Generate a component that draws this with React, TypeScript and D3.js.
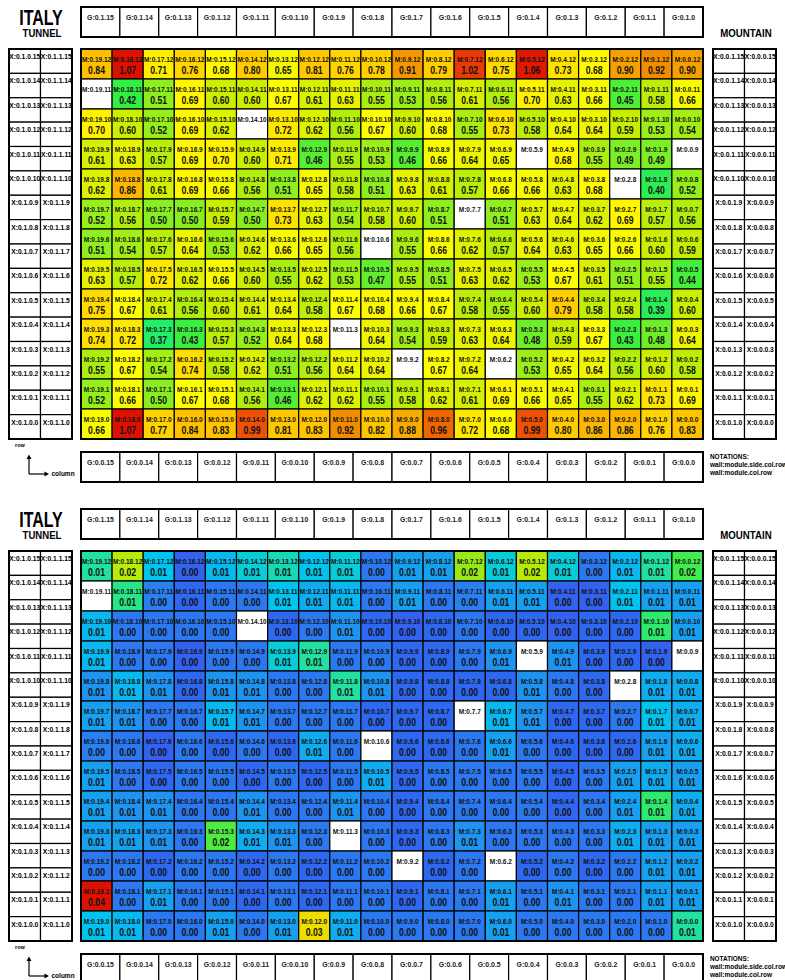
import React from 'react';
import * as d3 from 'd3';

// ---------- data ----------
const modules = [19, 18, 17, 16, 15, 14, 13, 12, 11, 10, 9, 8, 7, 6, 5, 4, 3, 2, 1, 0];
const moduleRows = [12, 11, 10, 9, 8, 7, 6, 5, 4, 3, 2, 1, 0];
const groupCols = [15, 14, 13, 12, 11, 10, 9, 8, 7, 6, 5, 4, 3, 2, 1, 0];
const sideRows = [15, 14, 13, 12, 11, 10, 9, 8, 7, 6, 5, 4, 3, 2, 1, 0];

// top panel values, rows 12..0, modules 19..0
const efficiencyRows: (number | null)[][] = [
  [0.84, 1.07, 0.71, 0.76, 0.68, 0.80, 0.65, 0.81, 0.76, 0.78, 0.91, 0.79, 1.02, 0.75, 1.06, 0.73, 0.68, 0.90, 0.92, 0.90],
  [null, 0.42, 0.51, 0.69, 0.60, 0.60, 0.67, 0.61, 0.63, 0.55, 0.53, 0.56, 0.61, 0.56, 0.70, 0.63, 0.66, 0.45, 0.58, 0.66],
  [0.70, 0.60, 0.52, 0.69, 0.62, null, 0.72, 0.62, 0.56, 0.67, 0.60, 0.68, 0.55, 0.73, 0.58, 0.64, 0.64, 0.59, 0.53, 0.54],
  [0.61, 0.63, 0.57, 0.69, 0.70, 0.60, 0.71, 0.46, 0.55, 0.53, 0.46, 0.66, 0.64, 0.65, null, 0.68, 0.55, 0.49, 0.49, null],
  [0.62, 0.86, 0.61, 0.69, 0.66, 0.56, 0.51, 0.65, 0.58, 0.51, 0.63, 0.61, 0.57, 0.66, 0.66, 0.63, 0.68, null, 0.40, 0.52],
  [0.52, 0.56, 0.50, 0.50, 0.59, 0.50, 0.73, 0.63, 0.54, 0.58, 0.60, 0.51, null, 0.51, 0.63, 0.64, 0.62, 0.69, 0.57, 0.56],
  [0.51, 0.54, 0.57, 0.64, 0.53, 0.62, 0.66, 0.65, 0.56, null, 0.55, 0.66, 0.62, 0.57, 0.64, 0.63, 0.65, 0.66, 0.60, 0.59],
  [0.63, 0.57, 0.72, 0.62, 0.66, 0.60, 0.55, 0.62, 0.53, 0.47, 0.55, 0.51, 0.63, 0.62, 0.53, 0.67, 0.61, 0.51, 0.55, 0.44],
  [0.75, 0.67, 0.61, 0.56, 0.60, 0.61, 0.64, 0.58, 0.67, 0.68, 0.66, 0.67, 0.58, 0.55, 0.60, 0.79, 0.58, 0.58, 0.39, 0.60],
  [0.74, 0.72, 0.37, 0.43, 0.57, 0.52, 0.64, 0.68, null, 0.64, 0.54, 0.59, 0.63, 0.64, 0.48, 0.59, 0.67, 0.43, 0.48, 0.64],
  [0.55, 0.67, 0.54, 0.74, 0.58, 0.62, 0.51, 0.56, 0.64, 0.64, null, 0.67, 0.64, null, 0.53, 0.65, 0.64, 0.56, 0.60, 0.58],
  [0.52, 0.66, 0.50, 0.67, 0.68, 0.56, 0.46, 0.62, 0.62, 0.55, 0.58, 0.62, 0.61, 0.69, 0.66, 0.65, 0.55, 0.62, 0.73, 0.69],
  [0.66, 1.07, 0.77, 0.84, 0.83, 0.99, 0.81, 0.83, 0.92, 0.82, 0.88, 0.96, 0.72, 0.68, 0.99, 0.80, 0.86, 0.86, 0.76, 0.83],
];

// bottom panel values, rows 12..0, modules 19..0
const lossRows: (number | null)[][] = [
  [0.013, 0.022, 0.010, 0.002, 0.009, 0.011, 0.012, 0.010, 0.011, 0.004, 0.007, 0.007, 0.020, 0.011, 0.022, 0.011, 0.004, 0.009, 0.013, 0.0152],
  [null, 0.0135, 0.0045, 0.003, 0.004, 0.004, 0.010, 0.008, 0.009, 0.004, 0.007, 0.004, 0.0045, 0.007, 0.007, 0.002, 0.002, 0.010, 0.007, 0.007],
  [0.009, 0.004, 0.004, 0.004, 0.004, null, 0.003, 0.004, 0.006, 0.003, 0.002, 0.003, 0.004, 0.003, 0.003, 0.002, 0.003, 0.003, 0.014, 0.007],
  [0.009, 0.004, 0.004, 0.002, 0.004, 0.004, 0.011, 0.013, 0.004, 0.004, 0.003, 0.003, 0.004, 0.006, null, 0.006, 0.003, 0.003, 0.002, null],
  [0.006, 0.009, 0.006, 0.003, 0.006, 0.006, 0.004, 0.004, 0.013, 0.006, 0.003, 0.003, 0.003, 0.003, 0.006, 0.004, 0.003, null, 0.008, 0.008],
  [0.007, 0.006, 0.004, 0.004, 0.009, 0.006, 0.004, 0.004, 0.004, 0.003, 0.003, 0.003, null, 0.009, 0.006, 0.003, 0.003, 0.004, 0.010, 0.008],
  [0.0045, 0.004, 0.002, 0.004, 0.003, 0.004, 0.003, 0.008, 0.004, null, 0.003, 0.003, 0.004, 0.007, 0.004, 0.003, 0.003, 0.003, 0.007, 0.008],
  [0.007, 0.004, 0.003, 0.004, 0.004, 0.003, 0.004, 0.003, 0.004, 0.008, 0.003, 0.004, 0.004, 0.004, 0.004, 0.003, 0.004, 0.007, 0.008, 0.007],
  [0.007, 0.006, 0.006, 0.004, 0.004, 0.006, 0.004, 0.004, 0.006, 0.004, 0.003, 0.004, 0.004, 0.004, 0.004, 0.003, 0.004, 0.007, 0.014, 0.008],
  [0.007, 0.007, 0.006, 0.004, 0.016, 0.008, 0.006, 0.004, null, 0.004, 0.003, 0.004, 0.006, 0.004, 0.004, 0.004, 0.004, 0.008, 0.007, 0.007],
  [0.004, 0.004, 0.003, 0.004, 0.004, 0.003, 0.004, 0.003, 0.004, 0.004, null, 0.003, 0.004, null, 0.003, 0.004, 0.003, 0.004, 0.007, 0.007],
  [0.042, 0.004, 0.007, 0.004, 0.004, 0.003, 0.004, 0.003, 0.004, 0.004, 0.003, 0.004, 0.004, 0.007, 0.004, 0.006, 0.004, 0.004, 0.007, 0.007],
  [0.010, 0.009, 0.004, 0.004, 0.007, 0.004, 0.007, 0.028, 0.008, 0.004, 0.004, 0.004, 0.004, 0.007, 0.004, 0.004, 0.004, 0.004, 0.004, 0.013],
];

const effStops = [0.37, 0.42, 0.46, 0.50, 0.55, 0.60, 0.64, 0.67, 0.72, 0.76, 0.84, 0.90, 0.96, 1.00, 1.07];
const effColors = ['#22ee66', '#33ee44', '#55ee33', '#88ee22', '#aaee11', '#ccee00', '#eef500', '#ffff00', '#ffe800', '#ffd400', '#ffc000', '#f5a000', '#ee6600', '#ec4a08', '#dd1100'];
const lossStops = [0, 0.003, 0.0045, 0.006, 0.008, 0.010, 0.011, 0.012, 0.013, 0.0145, 0.018, 0.021, 0.023, 0.028, 0.033, 0.038, 0.042];
const lossColors = ['#3a55ee', '#2f68f0', '#2a80f0', '#1e94f0', '#10acf0', '#00c4ee', '#08ccd8', '#18d8b8', '#22e0a0', '#33ee55', '#77e828', '#aaea10', '#c4ee00', '#eedd00', '#ffaa00', '#ee4400', '#dd1100'];

const FONT = 'Liberation Sans, Arial, Helvetica, sans-serif';

function T(props: { x: number; y: number; size: number; sy?: number; anchor?: string; fill?: string; children: React.ReactNode }) {
  const { x, y, size, sy = 1, anchor = 'middle', fill = '#000', children } = props;
  return (
    <text transform={`translate(${x},${y}) scale(1,${sy})`} fontSize={size} textAnchor={anchor as any}
      fontWeight="bold" fill={fill} fontFamily={FONT}>{children}</text>
  );
}

function Panel({ top, values, color }: { top: number; values: (number | null)[][]; color: (v: number) => string }) {
  const x = d3.scaleBand<number>().domain(modules).range([81, 703]);
  const y = d3.scaleBand<number>().domain(moduleRows).range([top + 49, top + 439]);
  const gx = d3.scaleBand<number>().domain(groupCols).range([81, 703]);
  const sy = d3.scaleBand<number>().domain(sideRows).range([top + 49, top + 439]);
  const cw = x.bandwidth();
  const ch = y.bandwidth();

  const headerRow = (yTop: number, prefix: string) => (
    <g>
      {groupCols.map((g) => (
        <g key={g}>
          <rect x={gx(g)} y={yTop} width={gx.bandwidth()} height={30} fill="#fff" stroke="#000" strokeWidth={1.2} />
          <T x={(gx(g) as number) + gx.bandwidth() / 2} y={yTop + 12.5} size={6.9} fill="#222">{`${prefix}${g}`}</T>
        </g>
      ))}
      <rect x={81} y={yTop} width={622} height={30} fill="none" stroke="#000" strokeWidth={2} />
    </g>
  );

  const sideBoxes = (x0: number, prefixes: string[]) => (
    <g>
      {prefixes.map((p, i) => (
        <g key={p}>
          {sideRows.map((r) => (
            <g key={r}>
              <rect x={x0 + i * 31.5} y={sy(r)} width={31.5} height={sy.bandwidth()} fill="#fff" stroke="#000" strokeWidth={1.2} />
              <T x={x0 + i * 31.5 + 15.75} y={(sy(r) as number) + 10} size={6.7}>{`${p}${r}`}</T>
            </g>
          ))}
        </g>
      ))}
      <rect x={x0} y={top + 49} width={63} height={390} fill="none" stroke="#000" strokeWidth={2} />
    </g>
  );

  return (
    <g>
      <T x={41} y={top + 25} size={16} sy={1.4}>ITALY</T>
      <T x={42} y={top + 37.3} size={9.6} sy={1.15}>TUNNEL</T>
      <T x={746} y={top + 37.3} size={9.7} sy={1.05}>MOUNTAIN</T>
      {headerRow(top + 7, 'G:0.1.')}
      {headerRow(top + 452, 'G:0.0.')}
      {sideBoxes(9, ['X:0.1.0.', 'X:0.1.1.'])}
      {sideBoxes(713, ['X:0.0.1.', 'X:0.0.0.'])}
      {moduleRows.map((r, ri) => (
        <g key={r}>
          {modules.map((m, mi) => {
            const v = values[ri][mi];
            const x0 = x(m) as number;
            const y0 = y(r) as number;
            return (
              <g key={m}>
                <rect x={x0} y={y0} width={cw} height={ch} fill={v == null ? '#fff' : color(v)} stroke="#000" strokeWidth={1.2} />
                <T x={x0 + cw / 2} y={y0 + 12.6} size={6.5} sy={1.15} fill="#111">{`M:0.${m}.${r}`}</T>
                {v != null && (
                  <T x={x0 + cw / 2} y={y0 + 25.2} size={8.7} sy={1.17} fill="#111">{v.toFixed(2)}</T>
                )}
              </g>
            );
          })}
        </g>
      ))}
      <rect x={81} y={top + 49} width={622} height={390} fill="none" stroke="#000" strokeWidth={2} />
      {/* orientation icon */}
      <T x={20} y={top + 447} size={5.5}>row</T>
      <line x1={29} y1={top + 474} x2={29} y2={top + 458} stroke="#000" strokeWidth={1.2} />
      <path d={`M26.5,${top + 459} L29,${top + 454.5} L31.5,${top + 459} Z`} fill="#000" />
      <line x1={29} y1={top + 474} x2={45} y2={top + 474} stroke="#000" strokeWidth={1.2} />
      <path d={`M44.5,${top + 471.5} L49,${top + 474} L44.5,${top + 476.5} Z`} fill="#000" />
      <T x={51.5} y={top + 476.2} size={6.5} anchor="start">column</T>
      <T x={710} y={top + 458.5} size={6.4} anchor="start">NOTATIONS:</T>
      <T x={710} y={top + 466.5} size={6.5} anchor="start">wall:module.side.col.row</T>
      <T x={710} y={top + 474.5} size={6.5} anchor="start">wall:module.col.row</T>
    </g>
  );
}

export default function App() {
  const effColor = d3.scaleLinear<string>().domain(effStops).range(effColors).clamp(true);
  const lossColor = d3.scaleLinear<string>().domain(lossStops).range(lossColors).clamp(true);
  return (
    <div style={{ position: 'absolute', left: 0, top: 0 }}>
      <svg width={785} height={980} style={{ display: 'block', background: '#fff' }}>
        <Panel top={0} values={efficiencyRows} color={(v) => effColor(v)} />
        <Panel top={502} values={lossRows} color={(v) => lossColor(v)} />
      </svg>
    </div>
  );
}
